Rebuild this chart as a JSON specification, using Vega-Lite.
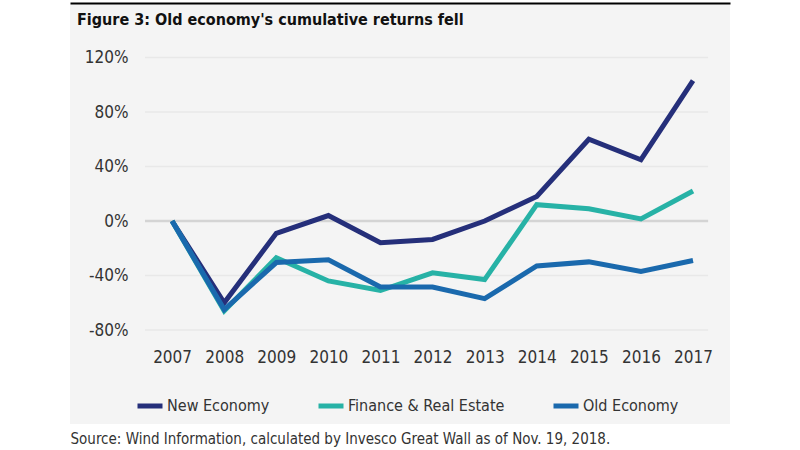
{
  "$schema": "https://vega.github.io/schema/vega-lite/v6.json",
  "width": 660,
  "height": 420,
  "autosize": {"type": "none"},
  "padding": {"left": 70, "top": 4, "right": 70, "bottom": 26},
  "background": "white",
  "config": {"view": {"fill": "#f4f4f4", "stroke": null}, "font": "'Liberation Sans Narrow', 'DejaVu Sans Condensed', 'Roboto Condensed', Roboto, sans-serif"},
  "title": {"text": "Figure 3: Old economy's cumulative returns fell", "anchor": "start", "frame": "group", "offset": -25, "dx": 7, "fontSize": 16, "fontWeight": "bold", "font": "'Liberation Sans Narrow', 'DejaVu Sans Condensed', 'Roboto Condensed', Roboto, sans-serif", "color": "#111111"},
  "datasets": {
    "returns": [
      {"year": 2007, "series": "New Economy", "value": 0},
      {"year": 2008, "series": "New Economy", "value": -60},
      {"year": 2009, "series": "New Economy", "value": -9},
      {"year": 2010, "series": "New Economy", "value": 4},
      {"year": 2011, "series": "New Economy", "value": -16},
      {"year": 2012, "series": "New Economy", "value": -13.5},
      {"year": 2013, "series": "New Economy", "value": 0},
      {"year": 2014, "series": "New Economy", "value": 18},
      {"year": 2015, "series": "New Economy", "value": 60},
      {"year": 2016, "series": "New Economy", "value": 45},
      {"year": 2017, "series": "New Economy", "value": 103},
      {"year": 2007, "series": "Finance & Real Estate", "value": 0},
      {"year": 2008, "series": "Finance & Real Estate", "value": -66},
      {"year": 2009, "series": "Finance & Real Estate", "value": -27},
      {"year": 2010, "series": "Finance & Real Estate", "value": -44},
      {"year": 2011, "series": "Finance & Real Estate", "value": -51},
      {"year": 2012, "series": "Finance & Real Estate", "value": -38},
      {"year": 2013, "series": "Finance & Real Estate", "value": -43},
      {"year": 2014, "series": "Finance & Real Estate", "value": 12},
      {"year": 2015, "series": "Finance & Real Estate", "value": 9},
      {"year": 2016, "series": "Finance & Real Estate", "value": 1.5},
      {"year": 2017, "series": "Finance & Real Estate", "value": 22},
      {"year": 2007, "series": "Old Economy", "value": 0},
      {"year": 2008, "series": "Old Economy", "value": -65},
      {"year": 2009, "series": "Old Economy", "value": -30.5},
      {"year": 2010, "series": "Old Economy", "value": -28.5},
      {"year": 2011, "series": "Old Economy", "value": -48.5},
      {"year": 2012, "series": "Old Economy", "value": -48.5},
      {"year": 2013, "series": "Old Economy", "value": -57},
      {"year": 2014, "series": "Old Economy", "value": -33},
      {"year": 2015, "series": "Old Economy", "value": -30},
      {"year": 2016, "series": "Old Economy", "value": -37},
      {"year": 2017, "series": "Old Economy", "value": -29}
    ],
    "grid": [{"v": 120}, {"v": 80}, {"v": 40}, {"v": 0}, {"v": -40}, {"v": -80}]
  },
  "layer": [
    {
      "data": {"name": "grid"},
      "mark": {"type": "rule"},
      "encoding": {
        "y": {
          "field": "v", "type": "quantitative",
          "scale": {"domain": [-149, 159.3], "nice": false, "zero": false},
          "axis": {"orient": "left", "values": [-80, -40, 0, 40, 80, 120], "labelExpr": "datum.value + '%'", "labelFontSize": 17, "labelColor": "#333333", "ticks": false, "domain": false, "grid": false, "offset": -58, "labelPadding": 0, "title": null, "labelFlush": false, "labelOverlap": false, "labelBound": false}
        },
        "x": {
          "datum": 2006.48, "type": "quantitative",
          "scale": {"domain": [2005.04, 2017.71], "nice": false, "zero": false},
          "axis": {"orient": "top", "labels": false, "ticks": false, "grid": false, "domain": true, "domainColor": "#000000", "domainWidth": 2, "offset": 1, "title": null}
        },
        "x2": {"datum": 2017.29},
        "color": {"condition": {"test": "datum.v === 0", "value": "#d4d4d4"}, "value": "#e8e8e8"},
        "strokeWidth": {"condition": {"test": "datum.v === 0", "value": 2.5}, "value": 1.5}
      }
    },
    {
      "data": {"name": "returns"},
      "mark": {"type": "line", "strokeWidth": 5},
      "encoding": {
        "x": {
          "field": "year", "type": "quantitative",
          "axis": {"orient": "bottom", "values": [2007, 2008, 2009, 2010, 2011, 2012, 2013, 2014, 2015, 2016, 2017], "format": "d", "labelFontSize": 17, "labelColor": "#333333", "ticks": false, "domain": false, "grid": false, "offset": -75, "labelPadding": 0, "labelBaseline": "top", "labelFlush": false, "labelOverlap": false, "labelBound": false,
            "title": "Source: Wind Information, calculated by Invesco Great Wall as of Nov. 19, 2018.", "titleX": 0, "titleY": 89, "titleAlign": "left", "titleAnchor": "start", "titleBaseline": "middle", "titleFontSize": 15, "titleFontWeight": "normal", "titleColor": "#333333"}
        },
        "y": {"field": "value", "type": "quantitative"},
        "color": {
          "field": "series", "type": "nominal",
          "scale": {"domain": ["New Economy", "Finance & Real Estate", "Old Economy"], "range": ["#252f7a", "#27b2a6", "#1a69ad"]},
          "legend": {"orient": "none", "legendX": 65, "legendY": 387, "direction": "horizontal", "columns": 3, "columnPadding": 38, "title": null, "symbolType": "stroke", "symbolSize": 625, "symbolStrokeWidth": 5, "labelFontSize": 16, "labelOffset": 2, "labelLimit": 400, "labelColor": "#333333", "symbolLimit": 0}
        }
      }
    }
  ],
  "resolve": {"axis": {"x": "independent"}}
}
